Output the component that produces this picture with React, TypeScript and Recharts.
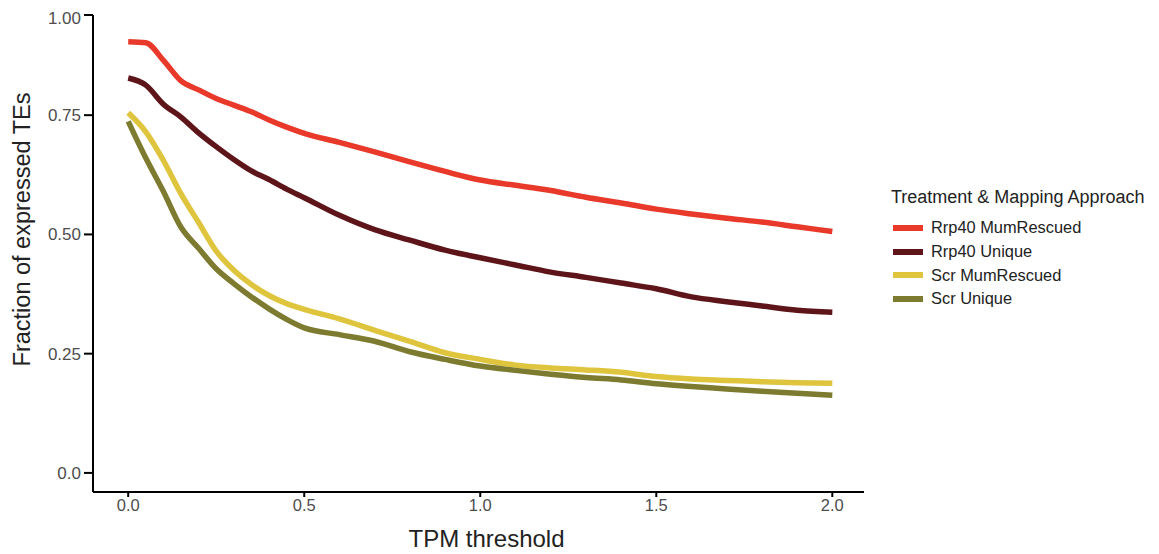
import React from "react";
import { LineChart, Line, XAxis, YAxis, Legend } from "recharts";

const tpm = [0, 0.05, 0.1, 0.15, 0.2, 0.25, 0.3, 0.35, 0.4, 0.45, 0.5, 0.6, 0.7, 0.8, 0.9, 1.0, 1.1, 1.2, 1.3, 1.4, 1.5, 1.6, 1.7, 1.8, 1.9, 2.0];
const rrp40Mum = [0.904, 0.902, 0.865, 0.822, 0.803, 0.785, 0.771, 0.757, 0.740, 0.725, 0.712, 0.693, 0.673, 0.652, 0.632, 0.614, 0.603, 0.592, 0.578, 0.566, 0.553, 0.543, 0.534, 0.526, 0.516, 0.506];
const rrp40Uniq = [0.828, 0.813, 0.773, 0.746, 0.713, 0.684, 0.657, 0.633, 0.615, 0.595, 0.577, 0.540, 0.510, 0.488, 0.467, 0.451, 0.436, 0.421, 0.410, 0.398, 0.386, 0.369, 0.359, 0.350, 0.341, 0.337];
const scrMum = [0.755, 0.715, 0.655, 0.585, 0.525, 0.465, 0.425, 0.395, 0.372, 0.355, 0.343, 0.323, 0.299, 0.276, 0.252, 0.238, 0.226, 0.220, 0.216, 0.211, 0.202, 0.197, 0.194, 0.191, 0.189, 0.188];
const scrUniq = [0.737, 0.660, 0.590, 0.515, 0.471, 0.428, 0.397, 0.369, 0.344, 0.322, 0.304, 0.290, 0.276, 0.254, 0.238, 0.224, 0.215, 0.207, 0.200, 0.195, 0.187, 0.181, 0.176, 0.171, 0.167, 0.163];

const xTicks = [0, 0.5, 1, 1.5, 2];
const yTicks = [0, 0.25, 0.5, 0.75, 0.96];

const series = [
  { key: "rrp40Mum", name: "Rrp40 MumRescued", color: "#e8392a", values: rrp40Mum },
  { key: "rrp40Uniq", name: "Rrp40 Unique", color: "#5e1519", values: rrp40Uniq },
  { key: "scrMum", name: "Scr MumRescued", color: "#dfc43e", values: scrMum },
  { key: "scrUniq", name: "Scr Unique", color: "#7d7b2f", values: scrUniq },
];

const data = tpm.map((t, i) => {
  const row: Record<string, number> = { tpm: t };
  series.forEach((s) => (row[s.key] = s.values[i]));
  return row;
});

const FONT = "'Liberation Sans', Arial, Helvetica, sans-serif";

const LegendContent = () => (
  <div style={{ fontFamily: FONT, color: "#222" }}>
    <div style={{ fontSize: 18, lineHeight: "21px", marginBottom: 8, whiteSpace: "nowrap" }}>
      Treatment &amp; Mapping Approach
    </div>
    {series.map((s) => (
      <div key={s.key} style={{ display: "flex", alignItems: "center", height: 23.7, paddingLeft: 2 }}>
        <div style={{ width: 30, height: 6, background: s.color, marginRight: 8 }} />
        <span style={{ fontSize: 16.4, whiteSpace: "nowrap" }}>{s.name}</span>
      </div>
    ))}
  </div>
);

export default function App() {
  return (
    <div style={{ width: 1143, height: 546, background: "#fff" }}>
      <LineChart width={1143} height={546} data={data} margin={{ top: 7, right: 287, bottom: 0, left: 0 }}>
        <XAxis
          dataKey="tpm"
          type="number"
          domain={[-0.1, 2.09]}
          ticks={xTicks}
          tickFormatter={(v: number) => v.toFixed(1)}
          height={62}
          stroke="#000"
          strokeWidth={2}
          tickSize={5}
          tickMargin={2}
          tick={{ fill: "#4d4d4d", fontSize: 16.5, fontFamily: FONT }}
          allowDataOverflow
          label={{
            content: (props: any) => {
              const vb = props.viewBox;
              return (
                <text
                  x={vb.x + vb.width / 2 + 8}
                  y={vb.y + 55}
                  textAnchor="middle"
                  fill="#222"
                  fontSize={24}
                  fontFamily={FONT}
                >
                  TPM threshold
                </text>
              );
            },
          }}
        />
        <YAxis
          type="number"
          domain={[-0.04, 0.96]}
          ticks={yTicks}
          tickFormatter={(v: number) => (v > 0.9 ? "1.00" : v === 0 ? "0.0" : v.toFixed(2))}
          width={85}
          stroke="#000"
          strokeWidth={2}
          tickSize={9}
          tickMargin={3}
          tick={{ fill: "#4d4d4d", fontSize: 17, fontFamily: FONT }}
          allowDataOverflow
          label={{
            content: (props: any) => {
              const vb = props.viewBox;
              const cx = vb.x + 14;
              const cy = vb.y + vb.height / 2 - 24;
              return (
                <text
                  x={cx}
                  y={cy}
                  transform={`rotate(-90, ${cx}, ${cy})`}
                  textAnchor="middle"
                  dominantBaseline="central"
                  fill="#222"
                  fontSize={23.5}
                  fontFamily={FONT}
                >
                  Fraction of expressed TEs
                </text>
              );
            },
          }}
        />
        <Legend
          layout="vertical"
          align="center"
          verticalAlign="middle"
          content={<LegendContent />}
          wrapperStyle={{ position: "absolute", left: 883, top: 179, width: 260 }}
        />
        {series.map((s) => (
          <Line
            key={s.key}
            dataKey={s.key}
            name={s.name}
            stroke={s.color}
            strokeWidth={5.5}
            dot={false}
            type="monotone"
            isAnimationActive={false}
          />
        ))}
      </LineChart>
    </div>
  );
}
